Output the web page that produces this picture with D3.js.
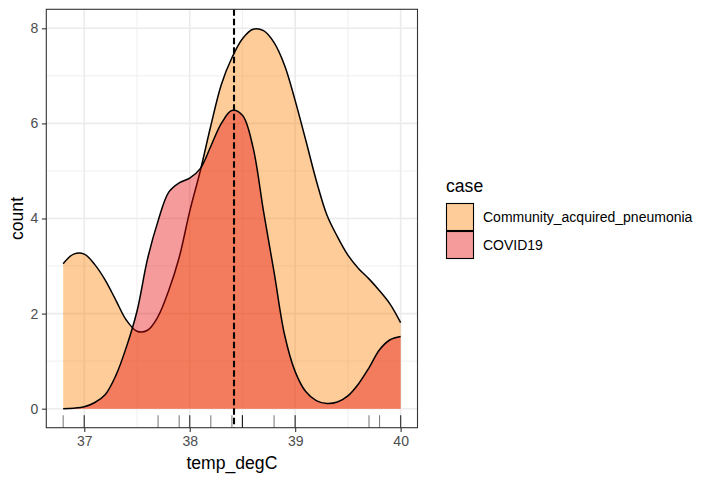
<!DOCTYPE html>
<html>
<head>
<meta charset="utf-8">
<script src="https://cdn.jsdelivr.net/npm/d3@7"></script>
<style>
  body { margin: 0; background: #fff; }
  text { font-family: "Liberation Sans", Arial, sans-serif; }
</style>
</head>
<body>
<div id="chart"></div>
<script>
var temps = [36.8, 36.9, 37.0, 37.1, 37.2, 37.3, 37.4, 37.5, 37.6, 37.7, 37.8,
  37.9, 38.0, 38.1, 38.2, 38.3, 38.4, 38.5, 38.6, 38.7, 38.8, 38.9, 39.0,
  39.1, 39.2, 39.3, 39.4, 39.5, 39.6, 39.7, 39.8, 39.9, 40.0];

var pneumoniaCounts = [3.05, 3.25, 3.25, 3.03, 2.70, 2.28, 1.86, 1.63, 1.65, 1.94, 2.48,
  3.18, 4.15, 5.00, 5.95, 6.82, 7.38, 7.78, 7.98, 7.95, 7.70, 7.22, 6.48,
  5.65, 4.80, 4.08, 3.62, 3.23, 2.95, 2.73, 2.48, 2.20, 1.81];

var covidCounts = [0.00, 0.01, 0.04, 0.13, 0.30, 0.70, 1.30, 2.05, 3.15, 3.95, 4.55,
  4.75, 4.85, 5.05, 5.52, 6.00, 6.27, 6.17, 5.50, 4.15, 2.87, 1.55, 0.78,
  0.36, 0.17, 0.11, 0.14, 0.27, 0.52, 0.86, 1.24, 1.45, 1.52];

// individual observations shown as a rug
var rugTemps = [36.8, 37.0, 37.0, 37.7, 37.9, 38.0, 38.0, 38.2, 38.4, 38.5, 38.5, 38.5,
  38.8, 39.0, 39.0, 39.7, 39.8, 40.0, 40.0];

var meanTemp = 38.42;

var caseNames = ["Community_acquired_pneumonia", "COVID19"];
var caseColors = ["#FD7F00", "#E60505"];

var xTicks = [37, 38, 39, 40];
var xMinor = [37.5, 38.5, 39.5];
var yTicks = [0, 2, 4, 6, 8];
var yMinor = [1, 3, 5, 7];

var svgWidth = 720;
var svgHeight = 480;

var panel = { left: 46.3, right: 417.5, top: 9.3, bottom: 427.7 };

var svg = d3.select("#chart")
  .append("svg")
  .attr("width", svgWidth)
  .attr("height", svgHeight);

// scales, padded 5% like ggplot
var xScale = d3.scaleLinear()
  .domain([36.8 - 0.16, 40 + 0.16])
  .range([panel.left, panel.right]);

var yScale = d3.scaleLinear()
  .domain([-0.4, 8.4])
  .range([panel.bottom, panel.top]);

// grid
var grid = svg.append("g");
grid.selectAll(".minx").data(xMinor).enter().append("line")
  .attr("x1", d => xScale(d)).attr("x2", d => xScale(d))
  .attr("y1", panel.top).attr("y2", panel.bottom)
  .attr("stroke", "#EBEBEB").attr("stroke-width", 0.8);
grid.selectAll(".miny").data(yMinor).enter().append("line")
  .attr("x1", panel.left).attr("x2", panel.right)
  .attr("y1", d => yScale(d)).attr("y2", d => yScale(d))
  .attr("stroke", "#EBEBEB").attr("stroke-width", 0.8);
grid.selectAll(".majx").data(xTicks).enter().append("line")
  .attr("x1", d => xScale(d)).attr("x2", d => xScale(d))
  .attr("y1", panel.top).attr("y2", panel.bottom)
  .attr("stroke", "#EBEBEB").attr("stroke-width", 1.6);
grid.selectAll(".majy").data(yTicks).enter().append("line")
  .attr("x1", panel.left).attr("x2", panel.right)
  .attr("y1", d => yScale(d)).attr("y2", d => yScale(d))
  .attr("stroke", "#EBEBEB").attr("stroke-width", 1.6);

// densities: pneumonia first, covid on top
var series = [pneumoniaCounts, covidCounts];

var area = d3.area()
  .x((d, i) => xScale(temps[i]))
  .y0(yScale(0))
  .y1(d => yScale(d))
  .curve(d3.curveCatmullRom);

var line = d3.line()
  .x((d, i) => xScale(temps[i]))
  .y(d => yScale(d))
  .curve(d3.curveCatmullRom);

series.forEach(function(values, k) {
  svg.append("path")
    .attr("d", area(values))
    .attr("fill", caseColors[k])
    .attr("fill-opacity", 0.4);
  svg.append("path")
    .attr("d", line(values))
    .attr("fill", "none")
    .attr("stroke", "#000")
    .attr("stroke-width", 1.5);
});

// rug
svg.append("g").selectAll("line")
  .data(rugTemps)
  .enter()
  .append("line")
  .attr("x1", d => xScale(d)).attr("x2", d => xScale(d))
  .attr("y1", panel.bottom).attr("y2", panel.bottom - (panel.bottom - panel.top) * 0.03)
  .attr("stroke", "#000")
  .attr("stroke-opacity", 0.5)
  .attr("stroke-width", 1.1);

// mean line
svg.append("line")
  .attr("x1", xScale(meanTemp)).attr("x2", xScale(meanTemp))
  .attr("y1", panel.top).attr("y2", panel.bottom)
  .attr("stroke", "#000")
  .attr("stroke-width", 2.1)
  .attr("stroke-dasharray", "6.5,3");

// panel border
svg.append("rect")
  .attr("x", panel.left).attr("y", panel.top)
  .attr("width", panel.right - panel.left)
  .attr("height", panel.bottom - panel.top)
  .attr("fill", "none")
  .attr("stroke", "#333333")
  .attr("stroke-width", 1.1);

// axes
var bottomAxis = d3.axisBottom(xScale).tickValues(xTicks).tickFormat(d3.format("d"))
  .tickSize(4.4).tickPadding(3.5);
var leftAxis = d3.axisLeft(yScale).tickValues(yTicks).tickFormat(d3.format("d"))
  .tickSize(4.4).tickPadding(3.5);

var xAxis = svg.append("g")
  .attr("transform", `translate(0, ${panel.bottom})`)
  .call(bottomAxis);
var yAxis = svg.append("g")
  .attr("transform", `translate(${panel.left}, 0)`)
  .call(leftAxis);

[xAxis, yAxis].forEach(function(ax) {
  ax.select(".domain").remove();
  ax.selectAll(".tick line").attr("stroke", "#333333").attr("stroke-width", 1.1);
  ax.selectAll(".tick text")
    .attr("fill", "#4D4D4D")
    .style("font-size", "14px")
    .style("font-family", "Liberation Sans, Arial, sans-serif");
});

// axis titles
svg.append("text")
  .attr("x", (panel.left + panel.right) / 2)
  .attr("y", 469)
  .attr("text-anchor", "middle")
  .style("font-size", "17.6px")
  .text("temp_degC");

svg.append("text")
  .attr("transform", "rotate(-90)")
  .attr("x", -(panel.top + panel.bottom) / 2)
  .attr("y", 22.5)
  .attr("text-anchor", "middle")
  .style("font-size", "17.6px")
  .text("count");

// legend
var legend = svg.append("g").attr("transform", "translate(446, 0)");

legend.append("text")
  .attr("x", 0)
  .attr("y", 192)
  .style("font-size", "17.6px")
  .text("case");

caseNames.forEach(function(name, k) {
  var top = 203.5 + k * 28;
  legend.append("rect")
    .attr("x", 0.5).attr("y", top)
    .attr("width", 27).attr("height", 27)
    .attr("fill", caseColors[k])
    .attr("fill-opacity", 0.4)
    .attr("stroke", "#000")
    .attr("stroke-width", 1.1);
  legend.append("text")
    .attr("x", 37)
    .attr("y", top + 13.5)
    .attr("dy", "0.35em")
    .style("font-size", "14px")
    .text(name);
});
</script>
</body>
</html>
